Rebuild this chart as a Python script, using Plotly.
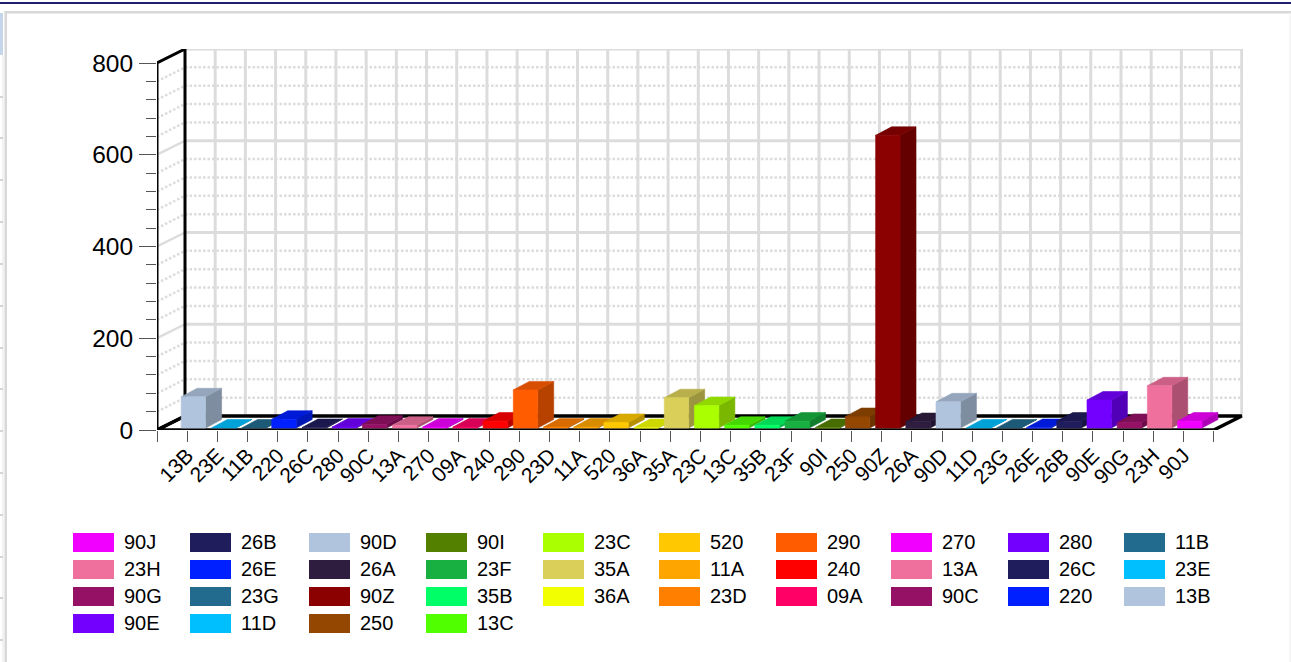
import plotly.graph_objects as go

categories = ["13B","23E","11B","220","26C","280","90C","13A","270","09A","240","290","23D","11A","520","36A","35A","23C","13C","35B","23F","90I","250","90Z","26A","90D","11D","23G","26E","26B","90E","90G","23H","90J"]
values = [68,0,0,19,1,2,8,6,2,2,15,83,2,2,12,1,66,49,6,6,15,1,25,638,14,57,0,0,1,15,61,12,92,15]
colors = ["#b0c4de","#00bfff","#236b8e","#0020ff","#201d5c","#7300ff","#951166","#f0709d","#f200ff","#ff0066","#ff0000","#ff5c00","#ff8000","#ffa500","#ffc800","#f2ff00","#d9cf59","#aaff00","#50ff00","#00ff66","#18b040","#548000","#944700","#8b0000","#2f1d40","#b0c4de","#00bfff","#236b8e","#0020ff","#201d5c","#7300ff","#951166","#f0709d","#f200ff"]
major_ticks = [0,200,400,600,800]
minor_step = 40
legend_columns = [["90J","23H","90G","90E"],["26B","26E","23G","11D"],["90D","26A","90Z","250"],["90I","23F","35B","13C"],["23C","35A","36A"],["520","11A","23D"],["290","240","09A"],["270","13A","90C"],["280","26C","220"],["11B","23E","13B"]]

W, H = 1291, 662
X0, X1 = 157.0, 1213.75
Y0, Y800 = 430.0, 63.0
SLOTS = 35
PX_X = (X1 - X0) / SLOTS
PX_Y = (Y0 - Y800) / 800
DX, DY = 28 / PX_X, 14 / PX_Y          # wall depth in data units
BAR_W = 24.4 / PX_X
RIGHT_PX, TOP_PX = 1243.0, 49.0

def shade(c, k):
    r, g, b = int(c[1:3], 16), int(c[3:5], 16), int(c[5:7], 16)
    return "rgb(%d,%d,%d)" % (r * k, g * k, b * k)

fig = go.Figure()

def line(xs, ys, color, width, dash="solid"):
    fig.add_trace(go.Scatter(x=xs, y=ys, mode="lines", line=dict(color=color, width=width, dash=dash),
                             hoverinfo="skip", showlegend=False, cliponaxis=False))

def poly(xs, ys, fill, edge=None):
    fig.add_trace(go.Scatter(x=xs, y=ys, mode="lines", fill="toself", fillcolor=fill,
                             line=dict(color=edge or fill, width=0.6),
                             hoverinfo="skip", showlegend=False, cliponaxis=False))

GRID = "#dcdcdc"
# dotted minor grid
for v in range(minor_step, 800, minor_step):
    if v in major_ticks:
        continue
    line([DX, SLOTS + DX], [v + DY, v + DY], GRID, 2.5, "2.5px,2px")
    line([0, DX], [v, v + DY], GRID, 2.5, "2.5px,2px")
# vertical back wall grid
for i in range(1, SLOTS + 1):
    line([i + DX, i + DX], [DY, 800 + DY], GRID, 3)
# solid major grid
for v in major_ticks[1:]:
    line([DX, SLOTS + DX], [v + DY, v + DY], GRID, 3)
for v in major_ticks[1:-1]:
    line([0, DX], [v, v + DY], GRID, 2.5)
# left wall and floor outline
line([0, 0, DX, DX, 0], [0, 800, 800 + DY, DY, 0], "#000000", 3)
line([0, SLOTS, SLOTS + DX, DX, 0], [0, 0, DY, DY, 0], "#000000", 3.5)

# bars, painted left to right
ddx = 16 / PX_X
ddy = 8.5 / PX_Y
y0 = 2 / PX_Y
for i, (v, c) in enumerate(zip(values, colors)):
    cx = i + 1
    xl = cx - 6 / PX_X
    xr = xl + BAR_W
    poly([xr, xr + ddx, xr + ddx, xr, xr], [y0, y0 + ddy, y0 + ddy + v, y0 + v, y0], shade(c, 0.72))
    poly([xl, xr, xr + ddx, xl + ddx, xl], [y0 + v, y0 + v, y0 + v + ddy, y0 + v + ddy, y0 + v], shade(c, 0.85))
    if v > 0:
        poly([xl, xr, xr, xl, xl], [y0, y0, y0 + v, y0 + v, y0], c)

# legend as drawn swatches and text
shapes, annotations = [], []
col_x = [73, 190, 309, 426, 543, 659, 776, 891, 1008, 1124]
row_y = [533, 560, 587, 614]
color_of = dict(zip(categories, colors))
for cx_px, col in zip(col_x, legend_columns):
    for ry, name in zip(row_y, col):
        shapes.append(dict(type="rect", xref="paper", yref="paper", x0=cx_px / W, x1=(cx_px + 41) / W,
                           y0=1 - ry / H, y1=1 - (ry + 19) / H, fillcolor=color_of[name], line=dict(width=0)))
        annotations.append(dict(text=name, xref="paper", yref="paper", x=(cx_px + 49) / W,
                                y=1 - (ry + 8.5) / H, xanchor="left", yanchor="middle", showarrow=False,
                                font=dict(family="Liberation Sans, Arial", size=20, color="#000000")))

# page frame
def rect(x0, y0, x1, y1, col):
    shapes.append(dict(type="rect", xref="paper", yref="paper", x0=x0 / W, x1=x1 / W, y0=1 - y0 / H, y1=1 - y1 / H,
                       fillcolor=col, line=dict(width=0), layer="below"))
rect(0, 2, W, 4, "#1f1f70")
rect(4.5, 11, W, 13.5, "#d8d8d8")
rect(4.5, 11, 7, H, "#d8d8d8")
rect(1289.5, 13, 1290.5, H, "#eeeeee")
rect(2.5, 55, 3.5, H, "#e6e6e6")
rect(0, 13, 3, 55, "#c6d6ea")
for my in [97,138,180,222,264,306,348,389,431,473,515,557,598,640]:
    rect(0, my - 1, 3, my + 1, "#d4d4d4")

fig.update_layout(
    width=W, height=H, margin=dict(l=0, r=0, t=0, b=0, autoexpand=False), paper_bgcolor="white", plot_bgcolor="rgba(0,0,0,0)",
    shapes=shapes, annotations=annotations, showlegend=False,
    font=dict(family="Liberation Sans, Arial", color="#000000"),
    xaxis=dict(domain=[X0 / W, RIGHT_PX / W], range=[0, (RIGHT_PX - X0) / PX_X], showgrid=False, zeroline=False, automargin=False,
               tickmode="array", tickvals=list(range(0, SLOTS + 1)), ticktext=[""] + categories + [""],
               tickangle=-45, ticks="outside", ticklen=11, tickwidth=1.2, tickcolor="#555555", ticklabelstandoff=-7,
               tickfont=dict(size=21, color="#000000")),
    yaxis=dict(domain=[1 - Y0 / H, 1 - TOP_PX / H], range=[0, (Y0 - TOP_PX) / PX_Y], showgrid=False, zeroline=False, automargin=False,
               tickmode="array", tickvals=major_ticks, ticks="outside", ticklen=17, tickwidth=1.2, tickcolor="#555555",
               tickfont=dict(size=24.5, color="#000000"), ticklabelstandoff=1,
               minor=dict(tickmode="array", tickvals=[v for v in range(0, 801, minor_step) if v not in major_ticks],
                          ticks="outside", ticklen=10, tickwidth=1.2, tickcolor="#555555")),
)
fig.write_html("out.html", config={"displayModeBar": False},
               post_script="document.body.style.margin='0';document.body.style.overflow='hidden';")
